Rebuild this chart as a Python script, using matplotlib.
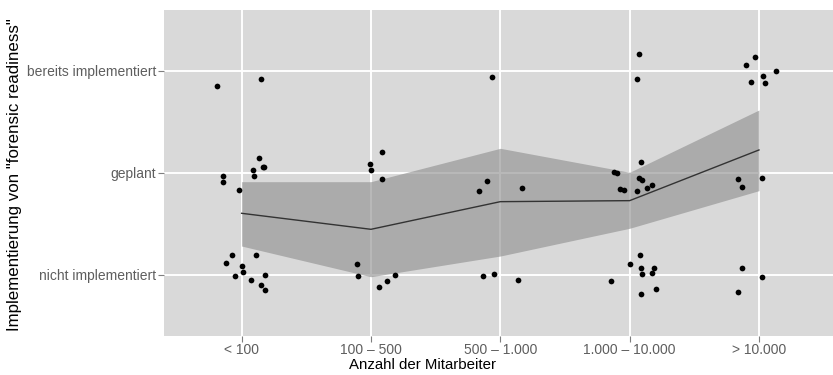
import numpy as np
import matplotlib
matplotlib.use("Agg")
import matplotlib.pyplot as plt

plt.rcParams["font.family"] = ["Liberation Sans", "DejaVu Sans"]

categories = ["< 100", "100 – 500", "500 – 1.000", "1.000 – 10.000", "> 10.000"]
levels = ["nicht implementiert", "geplant", "bereits implementiert"]

# jittered answers: x in category units, y in answer levels
point_x = [
    0.809, 1.147,
    1.131, 1.165, 1.175, 1.088, 1.098, 0.853, 0.855, 0.977,
    0.928, 1.113, 0.879, 1.005, 1.013, 0.948, 1.180, 1.072, 1.152, 1.178,
    2.088, 1.995, 2.003, 2.088,
    1.889, 1.899, 2.186, 2.121, 2.060,
    2.936, 2.897, 2.833, 3.168, 2.864, 2.954, 3.135,
    4.070, 4.053,
    4.086, 3.877, 3.903, 4.073, 4.099, 3.926, 3.957, 4.055, 4.138, 4.176,
    4.078, 4.003, 4.088, 4.189, 4.099, 4.169, 3.854, 4.200, 4.086,
    4.970, 4.900, 5.130, 5.032, 4.942, 5.050,
    4.841, 4.865, 5.022,
    4.869, 5.027, 4.834,
]
point_y = [
    2.850, 2.922,
    2.141, 2.059, 2.053, 2.026, 1.968, 1.968, 1.906, 1.830,
    1.196, 1.190, 1.118, 1.088, 1.029, 0.987, 0.994, 0.945, 0.896, 0.847,
    2.200, 2.088, 2.029, 1.938,
    1.108, 0.990, 1.000, 0.941, 0.882,
    2.935, 1.922, 1.824, 1.847, 0.987, 1.010, 0.948,
    3.164, 2.922,
    2.108, 2.010, 1.994, 1.945, 1.925, 1.837, 1.833, 1.824, 1.847, 1.879,
    1.196, 1.108, 1.066, 1.066, 1.007, 1.017, 0.935, 0.857, 0.811,
    3.134, 3.056, 2.997, 2.951, 2.892, 2.882,
    1.938, 1.863, 1.951,
    1.063, 0.977, 0.833,
]

# group mean with confidence band
mean_y = [1.602, 1.445, 1.716, 1.726, 2.223]
ci_low = [1.281, 0.980, 1.183, 1.455, 1.824]
ci_high = [1.912, 1.912, 2.239, 2.004, 2.615]

W, H = 833, 375
fig = plt.figure(figsize=(W / 100, H / 100), dpi=100)
ax = fig.add_axes([164 / W, 1 - 335.9 / H, 672.6 / W, 326.4 / H])
ax.set_facecolor("#d9d9d9")

xs = np.arange(1, len(categories) + 1)
ax.fill_between(xs, ci_low, ci_high, color="#909090", alpha=0.63, lw=0, zorder=2)
ax.plot(xs, mean_y, color="#333333", lw=1.0, zorder=3)
ax.scatter(point_x, point_y, s=17, c="black", lw=0, zorder=4)

ax.set_xticks(xs)
ax.set_xticklabels(categories)
ax.set_yticks([1, 2, 3])
ax.set_yticklabels(levels)
ax.set_xlim(0.4, 5.6)
ax.set_ylim(0.4, 3.6)

ax.grid(color="white", lw=1.4)
ax.set_axisbelow(True)
for s in ax.spines.values():
    s.set_visible(False)
ax.tick_params(length=4.3, width=0.8, color="#7f7f7f", labelcolor="#5e5e5e",
               labelsize=10.0, pad=1.5)
ax.tick_params(axis="x", pad=1.0)

ax.set_xlabel("Anzahl der Mitarbeiter", fontsize=10.8, color="black")
ax.xaxis.set_label_coords((422 - 164) / 672.6, -0.068)
ax.set_ylabel('Implementierung von "forensic readiness"', fontsize=12.2, color="black")
ax.yaxis.set_label_coords((22 - 164) / 672.6, 0.493)

plt.savefig("out.png", dpi=100)
